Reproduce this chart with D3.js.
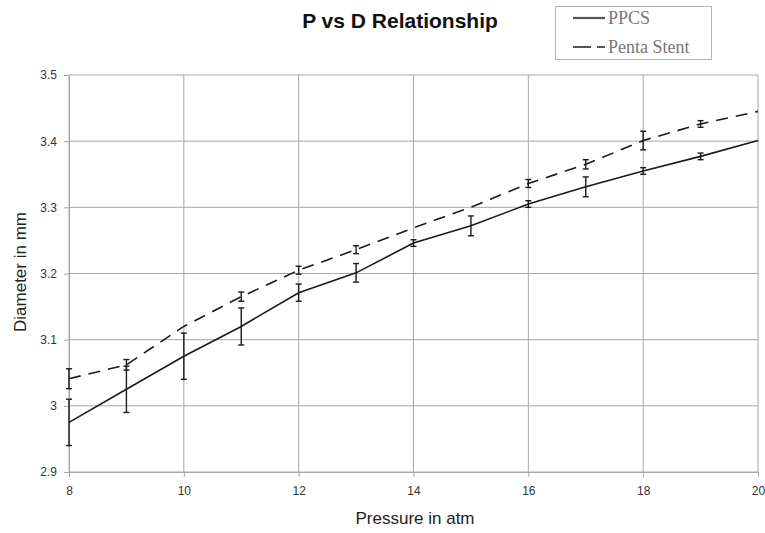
<!DOCTYPE html>
<html>
<head>
<meta charset="utf-8">
<script src="https://cdn.jsdelivr.net/npm/d3@7"></script>
<style>
  body { margin: 0; background: #fff; }
  svg { display: block; }
  .grid line { stroke: #a8a8a8; stroke-width: 1; }
  .axis text { font-family: Arial, "Liberation Sans", sans-serif; font-size: 12px; fill: #333; }
  .axis path, .axis line { stroke: #a8a8a8; }
</style>
</head>
<body>
<svg id="chart" width="765" height="533"></svg>
<script>
const PRESSURE = [8, 9, 10, 11, 12, 13, 14, 15, 16, 17, 18, 19, 20];
const PPCS = [2.975, 3.025, 3.075, 3.12, 3.171, 3.201, 3.246, 3.272, 3.305, 3.331, 3.355, 3.377, 3.401];
const PPCS_ERR = [0.035, 0.035, 0.035, 0.028, 0.013, 0.014, 0.005, 0.015, 0.005, 0.015, 0.005, 0.005, 0];
const PENTA = [3.041, 3.062, 3.12, 3.165, 3.205, 3.236, 3.269, 3.3, 3.336, 3.365, 3.401, 3.426, 3.445];
const PENTA_ERR = [0.015, 0.008, 0, 0.007, 0.006, 0.006, 0, 0, 0.006, 0.007, 0.014, 0.005, 0];
const X_TICKS = [8, 10, 12, 14, 16, 18, 20];
const Y_TICKS = [2.9, 3.0, 3.1, 3.2, 3.3, 3.4, 3.5];
const Y_LABELS = ["2.9", "3", "3.1", "3.2", "3.3", "3.4", "3.5"];

const SVG = d3.select("#chart");
const MARGIN = { top: 75, bottom: 61, left: 69, right: 7 };
const WIDTH = 765;
const HEIGHT = 533;

const SCALE_X = d3.scaleLinear()
  .domain([8, 20])
  .range([MARGIN.left, WIDTH - MARGIN.right]);

const SCALE_Y = d3.scaleLinear()
  .domain([2.9, 3.5])
  .range([HEIGHT - MARGIN.bottom, MARGIN.top]);

// grid
const GRID = SVG.append("g").attr("class", "grid");
GRID.selectAll("line.h")
  .data(Y_TICKS)
  .enter()
  .append("line")
  .attr("x1", SCALE_X(8)).attr("x2", SCALE_X(20))
  .attr("y1", d => SCALE_Y(d)).attr("y2", d => SCALE_Y(d));
GRID.selectAll("line.v")
  .data(X_TICKS)
  .enter()
  .append("line")
  .attr("y1", SCALE_Y(2.9)).attr("y2", SCALE_Y(3.5))
  .attr("x1", d => SCALE_X(d)).attr("x2", d => SCALE_X(d));

// axes
SVG.append("g")
  .attr("class", "axis")
  .attr("transform", `translate(0,${SCALE_Y(2.9)})`)
  .call(d3.axisBottom(SCALE_X).tickValues(X_TICKS).tickSize(5).tickSizeOuter(0).tickPadding(9));

SVG.append("g")
  .attr("class", "axis")
  .attr("transform", `translate(${SCALE_X(8)},0)`)
  .call(d3.axisLeft(SCALE_Y).tickValues(Y_TICKS).tickSize(5).tickSizeOuter(0).tickPadding(7)
    .tickFormat((d, i) => Y_LABELS[i]));

// series
const PPCS_DATA = PRESSURE.map((p, i) => ({ p: p, v: PPCS[i], e: PPCS_ERR[i] }));
const PENTA_DATA = PRESSURE.map((p, i) => ({ p: p, v: PENTA[i], e: PENTA_ERR[i] }));

const LINE = d3.line()
  .x(d => SCALE_X(d.p))
  .y(d => SCALE_Y(d.v));

SVG.append("path")
  .datum(PENTA_DATA)
  .attr("fill", "none")
  .attr("stroke", "#1a1a1a")
  .attr("stroke-width", 1.6)
  .attr("stroke-dasharray", "12,8")
  .attr("d", LINE);

SVG.append("path")
  .datum(PPCS_DATA)
  .attr("fill", "none")
  .attr("stroke", "#1a1a1a")
  .attr("stroke-width", 1.6)
  .attr("d", LINE);

function drawErrors(data) {
  const G = SVG.append("g").attr("stroke", "#1a1a1a").attr("stroke-width", 1.4);
  const ROWS = data.filter(d => d.e > 0);
  G.selectAll("line.bar")
    .data(ROWS)
    .enter()
    .append("line")
    .attr("x1", d => SCALE_X(d.p)).attr("x2", d => SCALE_X(d.p))
    .attr("y1", d => SCALE_Y(d.v - d.e)).attr("y2", d => SCALE_Y(d.v + d.e));
  [-1, 1].forEach(s => {
    G.selectAll(null)
      .data(ROWS)
      .enter()
      .append("line")
      .attr("x1", d => SCALE_X(d.p) - 3).attr("x2", d => SCALE_X(d.p) + 3)
      .attr("y1", d => SCALE_Y(d.v + s * d.e)).attr("y2", d => SCALE_Y(d.v + s * d.e));
  });
}
drawErrors(PENTA_DATA);
drawErrors(PPCS_DATA);

// titles
SVG.append("text")
  .attr("x", 400).attr("y", 28)
  .attr("text-anchor", "middle")
  .attr("font-family", "Arial, 'Liberation Sans', sans-serif")
  .attr("font-size", 21).attr("font-weight", "bold")
  .attr("fill", "#111")
  .text("P vs D Relationship");

SVG.append("text")
  .attr("x", 415).attr("y", 524)
  .attr("text-anchor", "middle")
  .attr("font-family", "Arial, 'Liberation Sans', sans-serif")
  .attr("font-size", 17).attr("fill", "#222")
  .text("Pressure in atm");

SVG.append("text")
  .attr("transform", "translate(26,272) rotate(-90)")
  .attr("text-anchor", "middle")
  .attr("font-family", "Arial, 'Liberation Sans', sans-serif")
  .attr("font-size", 17).attr("fill", "#222")
  .text("Diameter in mm");

// legend
const LEGEND = SVG.append("g");
LEGEND.append("rect")
  .attr("x", 555.5).attr("y", 6.5).attr("width", 156).attr("height", 53)
  .attr("fill", "#fff").attr("stroke", "#b5b5b5");
const LEGEND_ITEMS = [
  { name: "PPCS", dash: null },
  { name: "Penta Stent", dash: "18,6" }
];
LEGEND.selectAll("line.key")
  .data(LEGEND_ITEMS)
  .enter()
  .append("line")
  .attr("x1", 573).attr("x2", 605)
  .attr("y1", (d, i) => 18 + i * 29).attr("y2", (d, i) => 18 + i * 29)
  .attr("stroke", "#555").attr("stroke-width", 2.2)
  .attr("stroke-dasharray", d => d.dash);
LEGEND.selectAll("text.key")
  .data(LEGEND_ITEMS)
  .enter()
  .append("text")
  .attr("x", 608)
  .attr("y", (d, i) => 24 + i * 29)
  .attr("font-family", "'Liberation Serif', 'DejaVu Serif', serif")
  .attr("font-size", 18).attr("fill", "#777")
  .text(d => d.name);
</script>
</body>
</html>
